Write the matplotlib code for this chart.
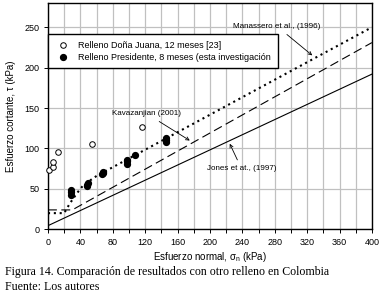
import matplotlib
matplotlib.use("Agg")
import matplotlib.pyplot as plt
from matplotlib.ticker import MultipleLocator

plt.rcParams['font.family'] = ['Liberation Sans', 'DejaVu Sans']

# Relleno Dona Juana (open circles)
dj_sigma = [1, 6.5, 6.5, 12, 54, 116]
dj_tau = [73.5, 77, 83, 96, 105, 126]

# Relleno Presidente (filled circles)
pr_sigma = [28, 28, 28, 48, 48, 49, 67, 68, 68, 97, 97, 98, 107, 146, 146, 146]
pr_tau = [43, 46, 49, 53, 55, 57, 68, 70, 71, 81, 84, 86, 92, 108, 111, 113]

# envelopes from literature
man_sigma = [0, 20, 27, 36, 44, 60, 400]
man_tau = [20, 20, 32, 45, 55, 66, 250]
kav_sigma = [0, 30, 400]
kav_tau = [24, 24, 231]
jones_sigma = [0, 400]
jones_tau = [4.5, 192]

fig = plt.figure(figsize=(3.83, 3.01), dpi=100)
ax = fig.add_axes([0.1253, 0.2382, 0.8457, 0.7518])

ax.plot(man_sigma, man_tau, color='k', ls=(0, (1, 1.8)), lw=1.5, zorder=3)
ax.plot(kav_sigma, kav_tau, color='k', ls=(0, (8, 4)), lw=0.8, zorder=3)
ax.plot(jones_sigma, jones_tau, color='k', ls='-', lw=0.8, zorder=3)

ax.plot(dj_sigma, dj_tau, 'o', ms=4, mfc='white', mec='k', mew=0.7,
        label='Relleno Doña Juana, 12 meses [23]', zorder=4, clip_on=False)
ax.plot(pr_sigma, pr_tau, 'o', ms=4.2, mfc='k', mec='k',
        label='Relleno Presidente, 8 meses (esta investigación', zorder=4)

ax.set_xlim(0, 400)
ax.set_ylim(0, 280)
ax.xaxis.set_major_locator(MultipleLocator(40))
ax.xaxis.set_minor_locator(MultipleLocator(20))
ax.set_yticks([0, 50, 100, 150, 200, 250])
ax.grid(True, which='both', axis='x', color='#c0c0c0', lw=0.9)
ax.grid(True, which='major', axis='y', color='#c0c0c0', lw=0.9)
ax.set_axisbelow(True)
ax.tick_params(which='both', labelsize=6.5, length=3, width=0.7, pad=3)
ax.tick_params(which='minor', length=3)
for s in ax.spines.values():
    s.set_linewidth(1.0)

ax.set_xlabel('Esfuerzo normal, σ$_\\mathregular{n}$ (kPa)', fontsize=7, labelpad=2.5)
ax.set_ylabel('Esfuerzo cortante, τ (kPa)', fontsize=7, labelpad=6)

leg = ax.legend(loc='upper left', bbox_to_anchor=(0, 0.862), fontsize=6.5,
                frameon=True, fancybox=False, framealpha=1, edgecolor='k',
                borderaxespad=0, handletextpad=0.8, handlelength=1.8,
                borderpad=0.75, labelspacing=0.3)
leg.get_frame().set_linewidth(1.0)
leg.set_zorder(5)

arr = dict(arrowstyle='->', color='k', lw=0.6)
ax.annotate('Manassero et al., (1996)', xy=(329, 213), xytext=(283, 251),
            fontsize=5.8, ha='center', va='center', arrowprops=arr)
ax.annotate('Kavazanjian (2001)', xy=(178, 108), xytext=(122, 143),
            fontsize=5.8, ha='center', va='center', arrowprops=arr)
ax.annotate('Jones et at., (1997)', xy=(223, 109), xytext=(239, 75),
            fontsize=5.8, ha='center', va='center', arrowprops=arr)

fig.text(0.013, 1 - 274.5 / 301, 'Figura 14. Comparación de resultados con otro relleno en Colombia',
         family='Liberation Serif', fontsize=8.6, va='baseline')
fig.text(0.013, 1 - 290 / 301, 'Fuente: Los autores',
         family='Liberation Serif', fontsize=8.6, va='baseline')

fig.savefig('out.png', dpi=100)
